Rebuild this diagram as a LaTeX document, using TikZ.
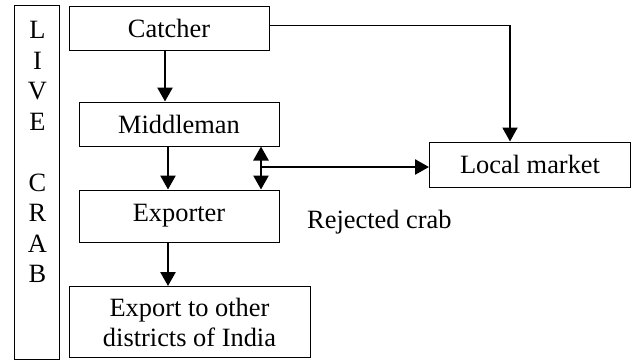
\documentclass[tikz,border=0pt]{standalone}
\usepackage{fontspec}
\setmainfont{Liberation Serif}
\usetikzlibrary{arrows.meta}
\begin{document}
\begin{tikzpicture}[x=1pt,y=-1pt,
  box/.style={draw,line width=1pt,inner sep=0pt,align=center,font=\fontsize{26.4}{30}\selectfont},
  arr/.style={line width=2.6pt,-{Triangle[length=14pt,width=15pt]}},
  darr/.style={line width=2.6pt,{Triangle[length=14pt,width=15pt]}-{Triangle[length=14pt,width=15pt]}},
  thin/.style={line width=1pt}]
\useasboundingbox (0,0) rectangle (631,360);
\node[box,minimum width=45pt,minimum height=354pt,anchor=center] (live) at (36.5,182) {};
\node[font=\fontsize{26.4}{30.5}\selectfont,align=center,inner sep=0pt] (livetxt) at (37.5,152) {L\\I\\V\\E\\[30.5pt]C\\R\\A\\B};
\node[box,minimum width=200pt,minimum height=44pt] (catcher) at (169,28) {Catcher};
\node[box,minimum width=200pt,minimum height=44pt] (middleman) at (179,124) {Middleman};
\node[box,minimum width=200pt,minimum height=52pt] (exporter) at (179,216) {Exporter};
\node[box,minimum width=241pt,minimum height=71pt] (export) at (189.5,322) {Export to other\\districts of India};
\node[box,minimum width=201pt,minimum height=45pt] (local) at (530,164.5) {Local market};
\node[font=\fontsize{26.4}{30}\selectfont,inner sep=0pt,anchor=west] (rej) at (307,222) {Rejected crab};
\coordinate (c1) at (165,0);
\coordinate (c2) at (168,0);
\coordinate (c3) at (261,0);
\coordinate (j) at (261,167);
\coordinate (k) at (510,25);
\draw[arr] (catcher.south -| c1) -- (middleman.north -| c1);
\draw[arr] (middleman.south -| c2) -- (exporter.north -| c2);
\draw[darr] (middleman.south -| c3) -- (exporter.north -| c3);
\draw[arr] (j) -- (local.west |- j);
\draw[arr] (exporter.south -| c2) -- (export.north -| c2);
\draw[thin] (catcher.east |- k) -- (k);
\draw[arr,line width=2pt] (k) -- (local.north -| k);
\end{tikzpicture}
\end{document}
